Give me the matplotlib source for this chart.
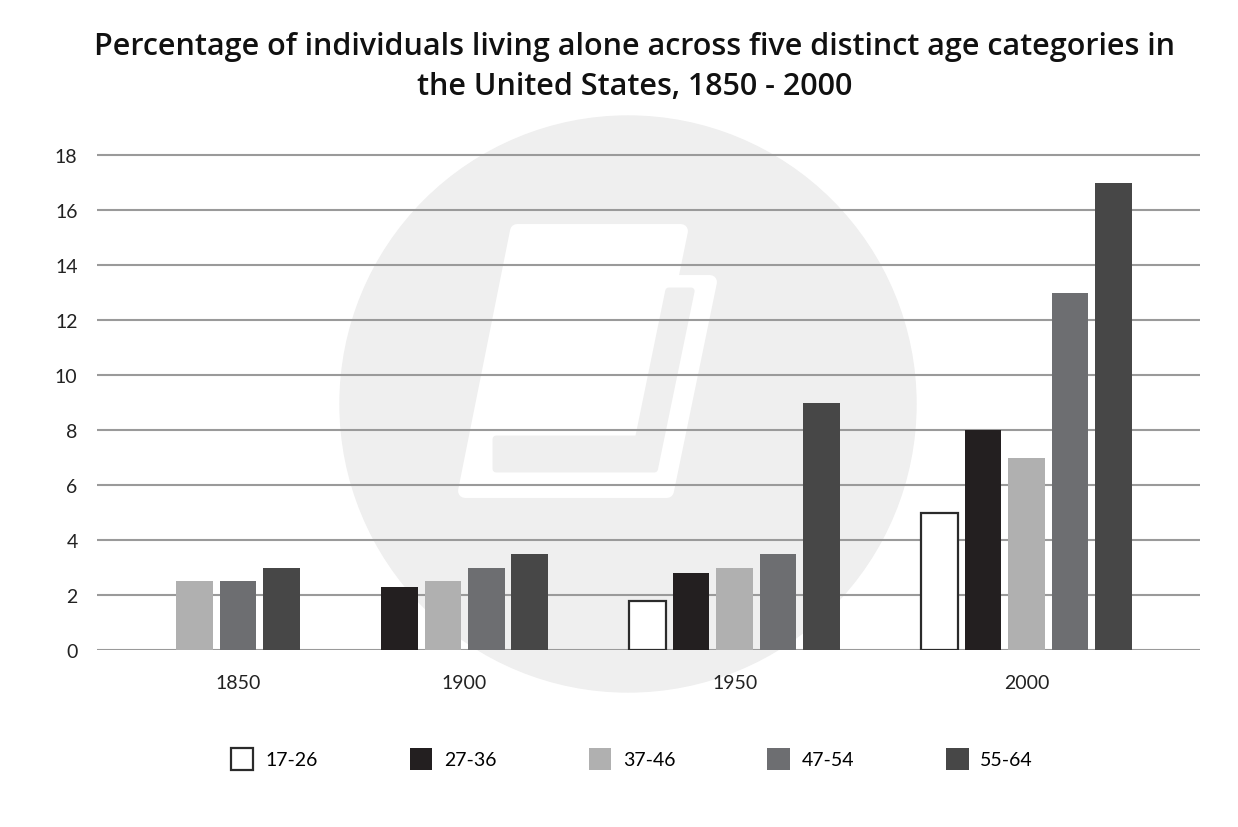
import numpy as np
import matplotlib.pyplot as plt
from matplotlib.patches import Circle, Polygon
from matplotlib.transforms import Affine2D

plt.rcParams['font.family'] = ['Lato', 'DejaVu Sans']

years = ['1850', '1900', '1950', '2000']
ages = ['17-26', '27-36', '37-46', '47-54', '55-64']
colors = ['white', '#231f20', '#b0b0b0', '#6d6e71', '#474747']

# None = no bar in that year
a17_26 = [None, None, 1.8, 5]
a27_36 = [None, 2.3, 2.8, 8]
a37_46 = [2.5, 2.5, 3, 7]
a47_54 = [2.5, 3, 3.5, 13]
a55_64 = [3, 3.5, 9, 17]
series = [a17_26, a27_36, a37_46, a47_54, a55_64]

W, H = 1238, 828
fig = plt.figure(figsize=(W / 100, H / 100), dpi=100)
ax = fig.add_axes([97 / W, 1 - 651 / H, (1200 - 97) / W, (651 - 150.5) / H])
ax.set_facecolor('none')

# watermark (pixel coords of the picture)
px = Affine2D().scale(1 / W, -1 / H).translate(0, 1) + fig.transFigure
fig.patches.append(Circle((628, 405), 288, transform=px, color='#efefef', zorder=-2))
def xl(y): return 517 - 0.2 * (y - 232)
def xr(y): return 681 - 0.205 * (y - 232)
def xb(y): return 710 - 0.206 * (y - 283)
page = [(xl(232), 232), (xr(232), 232), (xr(283), 283), (xb(283), 283),
        (xb(492), 492), (xl(492), 492)]
fig.patches.append(Polygon(page, closed=True, transform=px, facecolor='white',
                           edgecolor='white', lw=10, joinstyle='round', zorder=-1))
lgap = [(xr(292), 292), (xb(292) - 17, 292), (xb(470) - 17, 470),
        (496, 470), (496, 440), (xr(440), 440)]
fig.patches.append(Polygon(lgap, closed=True, transform=px, facecolor='#efefef',
                           edgecolor='#efefef', lw=5, joinstyle='round', zorder=-1))

# bar positions: bars packed per year, empty slots dropped
gap = 1.71
pos = [[None] * len(years) for _ in ages]
centers = []
x = 0.0
for g in range(len(years)):
    xs = []
    for s in range(len(ages)):
        if series[s][g] is not None:
            pos[s][g] = x
            xs.append(x)
            x += 1
    centers.append(np.mean(xs))
    x += gap

for s, name in enumerate(ages):
    xs = [pos[s][g] for g in range(len(years)) if series[s][g] is not None]
    hs = [series[s][g] for g in range(len(years)) if series[s][g] is not None]
    if s == 0:
        ax.bar(xs, hs, width=0.84, color=colors[s], edgecolor='#2b2b2b', linewidth=1.6, label=name, zorder=3)
    else:
        ax.bar(xs, hs, width=0.84, color=colors[s], linewidth=0, label=name, zorder=3)

ax.set_xlim(-2.24, x - gap - 1 + 1.99)
ax.set_ylim(0, 18.2)
ax.set_yticks(range(0, 19, 2))
ax.set_xticks(centers)
ax.set_xticklabels(years)
ax.tick_params(axis='both', length=0, labelsize=14, colors='#222222')
ax.tick_params(axis='y', pad=14)
ax.tick_params(axis='x', pad=17)
ax.grid(axis='y', color='#9a9a9a', linewidth=1.5)
ax.set_axisbelow(True)
for sp in ax.spines.values():
    sp.set_visible(False)

fig.text(635 / W, 1 - 32 / H, 'Percentage of individuals living alone across five distinct age categories in\nthe United States, 1850 - 2000',
         ha='center', va='top', fontsize=22, fontweight='semibold', family=['Open Sans', 'DejaVu Sans'],
         color='#111111', linespacing=1.42)

fig.legend(loc='center', bbox_to_anchor=(632 / W, 1 - 760 / H), ncol=5, frameon=False,
           fontsize=14, handlelength=1.15, handleheight=1.35, handletextpad=0.6,
           columnspacing=4.75)

fig.savefig('out.png', dpi=100, facecolor='white')
